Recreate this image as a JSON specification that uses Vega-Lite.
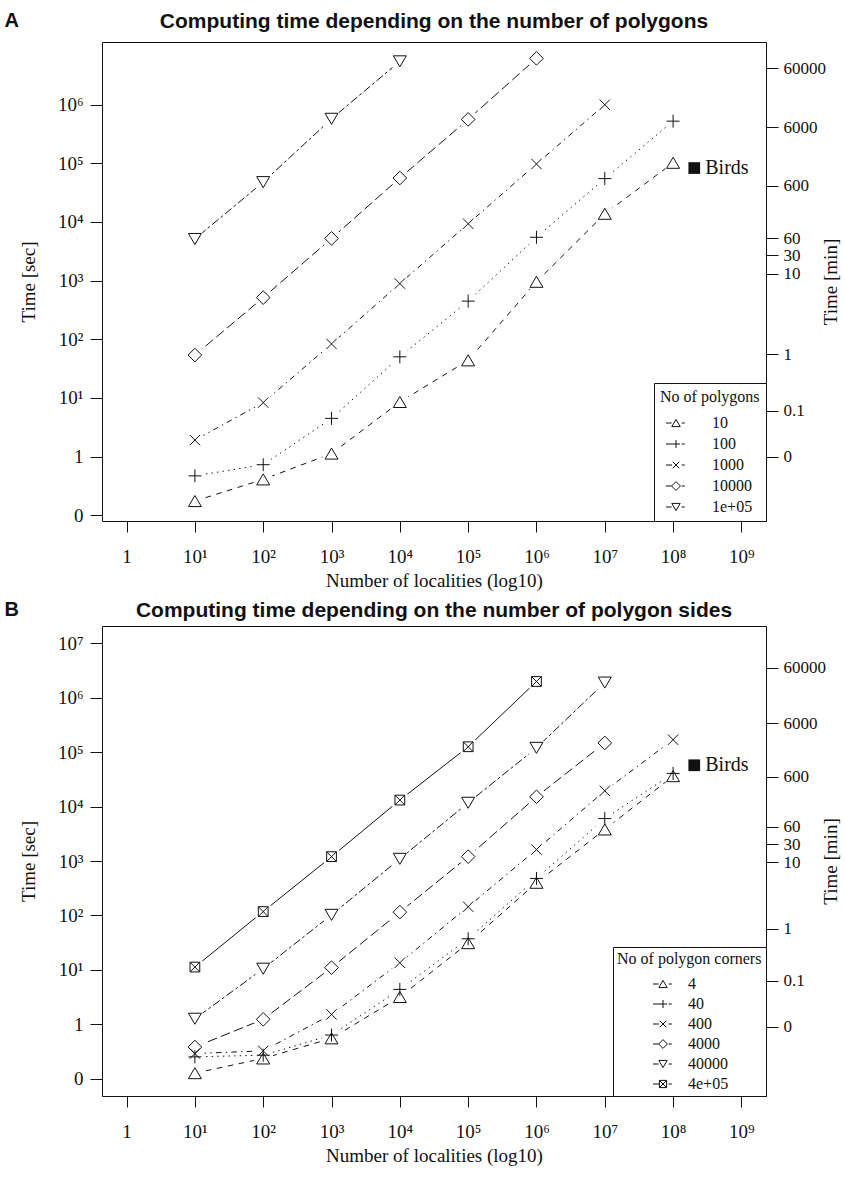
{
  "$schema": "https://vega.github.io/schema/vega-lite/v6.json",
  "background": "white",
  "padding": {"top": 10, "left": 4, "right": 0, "bottom": 0},
  "config": {
    "view": {"stroke": "#111", "strokeWidth": 1},
    "font": "Liberation Serif",
    "axis": {"domain": false, "grid": false, "tickColor": "#111", "tickSize": 11, "labelFont": "Liberation Serif", "labelFontSize": 19, "labelColor": "#111", "titleFont": "Liberation Serif", "titleFontSize": 19, "titleFontWeight": "normal", "titleColor": "#111", "labelFlush": false, "labelOverlap": false, "labelBound": false},
    "title": {"font": "Liberation Sans", "fontWeight": "bold", "fontSize": 21, "color": "#111"},
    "legend": {"titleFont": "Liberation Serif", "titleFontWeight": "normal", "titleFontSize": 16, "titleColor": "#111", "labelFont": "Liberation Serif", "labelFontSize": 16, "labelColor": "#111", "strokeColor": "#111", "fillColor": "white", "padding": 6, "cornerRadius": 0, "symbolSize": 64, "symbolStrokeWidth": 1, "symbolStrokeColor": "#111", "symbolOpacity": 1, "rowPadding": 5, "titlePadding": 10, "labelLimit": 300}
  },
  "datasets": {
    "panelA": [
      {"series": "10", "logN": 1, "logT": -0.76}, {"series": "10", "logN": 2, "logT": -0.39}, {"series": "10", "logN": 3, "logT": 0.05}, {"series": "10", "logN": 4, "logT": 0.93}, {"series": "10", "logN": 5, "logT": 1.64}, {"series": "10", "logN": 6, "logT": 2.98}, {"series": "10", "logN": 7, "logT": 4.14}, {"series": "10", "logN": 8, "logT": 5.01},
      {"series": "100", "logN": 1, "logT": -0.33}, {"series": "100", "logN": 2, "logT": -0.14}, {"series": "100", "logN": 3, "logT": 0.65}, {"series": "100", "logN": 4, "logT": 1.70}, {"series": "100", "logN": 5, "logT": 2.65}, {"series": "100", "logN": 6, "logT": 3.74}, {"series": "100", "logN": 7, "logT": 4.74}, {"series": "100", "logN": 8, "logT": 5.72},
      {"series": "1000", "logN": 1, "logT": 0.28}, {"series": "1000", "logN": 2, "logT": 0.92}, {"series": "1000", "logN": 3, "logT": 1.92}, {"series": "1000", "logN": 4, "logT": 2.95}, {"series": "1000", "logN": 5, "logT": 3.97}, {"series": "1000", "logN": 6, "logT": 4.99}, {"series": "1000", "logN": 7, "logT": 6.00},
      {"series": "10000", "logN": 1, "logT": 1.73}, {"series": "10000", "logN": 2, "logT": 2.71}, {"series": "10000", "logN": 3, "logT": 3.72}, {"series": "10000", "logN": 4, "logT": 4.75}, {"series": "10000", "logN": 5, "logT": 5.75}, {"series": "10000", "logN": 6, "logT": 6.79},
      {"series": "1e+05", "logN": 1, "logT": 3.71}, {"series": "1e+05", "logN": 2, "logT": 4.68}, {"series": "1e+05", "logN": 3, "logT": 5.76}, {"series": "1e+05", "logN": 4, "logT": 6.74}
    ],
    "panelB": [
      {"series": "4", "logN": 1, "logT": -0.90}, {"series": "4", "logN": 2, "logT": -0.63}, {"series": "4", "logN": 3, "logT": -0.26}, {"series": "4", "logN": 4, "logT": 0.50}, {"series": "4", "logN": 5, "logT": 1.49}, {"series": "4", "logN": 6, "logT": 2.60}, {"series": "4", "logN": 7, "logT": 3.58}, {"series": "4", "logN": 8, "logT": 4.56},
      {"series": "40", "logN": 1, "logT": -0.60}, {"series": "40", "logN": 2, "logT": -0.57}, {"series": "40", "logN": 3, "logT": -0.20}, {"series": "40", "logN": 4, "logT": 0.64}, {"series": "40", "logN": 5, "logT": 1.57}, {"series": "40", "logN": 6, "logT": 2.68}, {"series": "40", "logN": 7, "logT": 3.78}, {"series": "40", "logN": 8, "logT": 4.61},
      {"series": "400", "logN": 1, "logT": -0.54}, {"series": "400", "logN": 2, "logT": -0.49}, {"series": "400", "logN": 3, "logT": 0.18}, {"series": "400", "logN": 4, "logT": 1.13}, {"series": "400", "logN": 5, "logT": 2.16}, {"series": "400", "logN": 6, "logT": 3.21}, {"series": "400", "logN": 7, "logT": 4.29}, {"series": "400", "logN": 8, "logT": 5.23},
      {"series": "4000", "logN": 1, "logT": -0.42}, {"series": "4000", "logN": 2, "logT": 0.09}, {"series": "4000", "logN": 3, "logT": 1.04}, {"series": "4000", "logN": 4, "logT": 2.06}, {"series": "4000", "logN": 5, "logT": 3.08}, {"series": "4000", "logN": 6, "logT": 4.18}, {"series": "4000", "logN": 7, "logT": 5.17},
      {"series": "40000", "logN": 1, "logT": 0.10}, {"series": "40000", "logN": 2, "logT": 1.02}, {"series": "40000", "logN": 3, "logT": 2.01}, {"series": "40000", "logN": 4, "logT": 3.04}, {"series": "40000", "logN": 5, "logT": 4.07}, {"series": "40000", "logN": 6, "logT": 5.08}, {"series": "40000", "logN": 7, "logT": 6.28},
      {"series": "4e+05", "logN": 1, "logT": 1.05}, {"series": "4e+05", "logN": 2, "logT": 2.07}, {"series": "4e+05", "logN": 3, "logT": 3.08}, {"series": "4e+05", "logN": 4, "logT": 4.12}, {"series": "4e+05", "logN": 5, "logT": 5.10}, {"series": "4e+05", "logN": 6, "logT": 6.30}
    ],
    "birdsA": [{"logN": 8.31, "logT": 4.92, "label": "Birds"}],
    "birdsB": [{"logN": 8.31, "logT": 4.76, "label": "Birds"}]
  },
  "spacing": 8,
  "vconcat": [
    {
      "title": {"text": "A", "orient": "left", "anchor": "end", "angle": 0, "fontSize": 20, "offset": 0, "align": "left", "baseline": "top"},
      "vconcat": [
        {
          "width": 664,
          "height": 479,
          "title": {"text": "Computing time depending on the number of polygons", "anchor": "middle", "offset": 10},
          "data": {"name": "panelA"},
          "encoding": {
            "x": {"field": "logN", "type": "quantitative", "scale": {"domain": [-0.36, 9.36], "nice": false, "zero": false},
              "axis": {"values": [0, 1, 2, 3, 4, 5, 6, 7, 8, 9], "labelExpr": "datum.value == 0 ? '1' : '10' + ['','¹','²','³','⁴','⁵','⁶','⁷','⁸','⁹'][datum.value]", "title": "Number of localities (log10)", "labelPadding": 15, "titlePadding": 5}}
          },
          "layer": [
            {
              "mark": {"type": "line", "strokeWidth": 1, "color": "#111"},
              "encoding": {
                "y": {"field": "logT", "type": "quantitative", "scale": {"domain": [-1.1, 7.07], "nice": false, "zero": false},
                  "axis": {"orient": "left", "values": [-1, 0, 1, 2, 3, 4, 5, 6], "labelExpr": "datum.value == -1 ? '0' : datum.value == 0 ? '1' : '10' + ['','¹','²','³','⁴','⁵','⁶','⁷','⁸','⁹'][datum.value]", "title": "Time [sec]", "tickSize": 12, "labelPadding": 7, "titlePadding": 19}},
                "strokeDash": {"field": "series", "type": "nominal", "scale": {"domain": ["10", "100", "1000", "10000", "1e+05"], "range": [[5.6, 5.6], [1.4, 4.2], [1.4, 4.2, 5.6, 4.2], [9.8, 4.2], [2.8, 2.8, 8.4, 2.8]]}, "legend": null}
              }
            },
            {
              "mark": {"type": "point", "shape": "circle", "filled": true, "color": "white", "opacity": 1, "size": 380},
              "encoding": {"y": {"field": "logT", "type": "quantitative", "axis": null}}
            },
            {
              "mark": {"type": "point", "filled": false, "color": "#111", "opacity": 1, "strokeWidth": 1, "size": 169},
              "encoding": {
                "y": {"field": "logT", "type": "quantitative", "axis": null},
                "shape": {"field": "series", "type": "nominal", "scale": {"domain": ["10", "100", "1000", "10000", "1e+05"], "range": ["M0,-0.85L1,0.85L-1,0.85Z", "M-1,0L1,0M0,-1L0,1", "M-0.8,-0.8L0.8,0.8M-0.8,0.8L0.8,-0.8", "M0,-1.05L1.05,0L0,1.05L-1.05,0Z", "M0,0.85L1,-0.85L-1,-0.85Z"]}, "legend": null}
              }
            },
            {
              "mark": {"type": "point", "filled": false, "color": "#111", "opacity": 0, "strokeWidth": 1},
              "encoding": {
                "y": {"field": "logT", "type": "quantitative",
                  "axis": {"orient": "right", "values": [6.62, 5.62, 4.62, 3.72, 3.43, 3.12, 1.74, 0.78, 0], "labelExpr": "datum.value > 6 ? '60000' : datum.value > 5 ? '6000' : datum.value > 4 ? '600' : datum.value > 3.55 ? '60' : datum.value > 3.3 ? '30' : datum.value > 2.5 ? '10' : datum.value > 1 ? '1' : datum.value > 0.5 ? '0.1' : '0'", "title": "Time [min]", "tickSize": 12, "labelPadding": 5, "labelFontSize": 17, "titleAngle": 270, "titleBaseline": "top", "titlePadding": -4}},
                "shape": {"field": "series", "type": "nominal", "scale": {"domain": ["10", "100", "1000", "10000", "1e+05"], "range": ["M-2.5,0L-1.1,0M0,-0.9L1.05,0.9L-1.05,0.9ZM1.4,0L2.2,0", "M-2.5,0L1,0M0,-1L0,1M1.4,0L2.2,0", "M-2.5,0L-1,0M-0.8,-0.8L0.8,0.8M-0.8,0.8L0.8,-0.8M1.4,0L2.2,0", "M-2.5,0L-1.1,0M0,-1.1L1.1,0L0,1.1L-1.1,0ZM1.4,0L2.2,0", "M-2.5,0L-1.1,0M0,0.9L1.05,-0.9L-1.05,-0.9ZM1.4,0L2.2,0"]},
                  "legend": {"title": "No of polygons", "orient": "bottom-right", "offset": 0, "symbolOffset": 8, "labelOffset": 28}}
              }
            },
            {
              "data": {"name": "birdsA"},
              "mark": {"type": "point", "shape": "square", "filled": true, "color": "#111", "opacity": 1, "size": 137},
              "encoding": {"y": {"field": "logT", "type": "quantitative", "axis": null}}
            },
            {
              "data": {"name": "birdsA"},
              "mark": {"type": "text", "align": "left", "baseline": "middle", "dx": 11, "fontSize": 20, "font": "Liberation Serif", "color": "#111"},
              "encoding": {"y": {"field": "logT", "type": "quantitative", "axis": null}, "text": {"field": "label"}}
            }
          ],
          "resolve": {"scale": {"shape": "independent"}, "axis": {"y": "independent"}}
        }
      ]
    },
    {
      "title": {"text": "B", "orient": "left", "anchor": "end", "angle": 0, "fontSize": 20, "offset": 0, "align": "left", "baseline": "top"},
      "vconcat": [
        {
          "width": 664,
          "height": 470,
          "title": {"text": "Computing time depending on the number of polygon sides", "anchor": "middle", "offset": 5},
          "data": {"name": "panelB"},
          "encoding": {
            "x": {"field": "logN", "type": "quantitative", "scale": {"domain": [-0.36, 9.36], "nice": false, "zero": false},
              "axis": {"values": [0, 1, 2, 3, 4, 5, 6, 7, 8, 9], "labelExpr": "datum.value == 0 ? '1' : '10' + ['','¹','²','³','⁴','⁵','⁶','⁷','⁸','⁹'][datum.value]", "title": "Number of localities (log10)", "labelPadding": 15, "titlePadding": 5}}
          },
          "layer": [
            {
              "transform": [{"filter": "datum.series != '4e+05'"}],
              "mark": {"type": "line", "strokeWidth": 1, "color": "#111"},
              "encoding": {
                "y": {"field": "logT", "type": "quantitative", "scale": {"domain": [-1.32, 7.32], "nice": false, "zero": false},
                  "axis": {"orient": "left", "values": [-1, 0, 1, 2, 3, 4, 5, 6, 7], "labelExpr": "datum.value == -1 ? '0' : datum.value == 0 ? '1' : '10' + ['','¹','²','³','⁴','⁵','⁶','⁷','⁸','⁹'][datum.value]", "title": "Time [sec]", "tickSize": 12, "labelPadding": 7, "titlePadding": 19}},
                "strokeDash": {"field": "series", "type": "nominal", "scale": {"domain": ["4", "40", "400", "4000", "40000"], "range": [[5.6, 5.6], [1.4, 4.2], [1.4, 4.2, 5.6, 4.2], [9.8, 4.2], [2.8, 2.8, 8.4, 2.8]]}, "legend": null}
              }
            },
            {
              "transform": [{"filter": "datum.series == '4e+05'"}],
              "mark": {"type": "line", "strokeWidth": 1, "color": "#111"},
              "encoding": {
                "y": {"field": "logT", "type": "quantitative", "axis": null},
                "detail": {"field": "series", "type": "nominal"}
              }
            },
            {
              "mark": {"type": "point", "shape": "circle", "filled": true, "color": "white", "opacity": 1, "size": 380},
              "encoding": {"y": {"field": "logT", "type": "quantitative", "axis": null}}
            },
            {
              "mark": {"type": "point", "filled": false, "color": "#111", "opacity": 1, "strokeWidth": 1, "size": 169},
              "encoding": {
                "y": {"field": "logT", "type": "quantitative", "axis": null},
                "shape": {"field": "series", "type": "nominal", "scale": {"domain": ["4", "40", "400", "4000", "40000", "4e+05"], "range": ["M0,-0.85L1,0.85L-1,0.85Z", "M-1,0L1,0M0,-1L0,1", "M-0.8,-0.8L0.8,0.8M-0.8,0.8L0.8,-0.8", "M0,-1.05L1.05,0L0,1.05L-1.05,0Z", "M0,0.85L1,-0.85L-1,-0.85Z", "M-0.75,-0.75L0.75,-0.75L0.75,0.75L-0.75,0.75ZM-0.75,-0.75L0.75,0.75M-0.75,0.75L0.75,-0.75"]}, "legend": null}
              }
            },
            {
              "mark": {"type": "point", "filled": false, "color": "#111", "opacity": 0, "strokeWidth": 1},
              "encoding": {
                "y": {"field": "logT", "type": "quantitative",
                  "axis": {"orient": "right", "values": [6.55, 5.53, 4.55, 3.63, 3.31, 2.98, 1.75, 0.8, -0.05], "labelExpr": "datum.value > 6 ? '60000' : datum.value > 5 ? '6000' : datum.value > 4 ? '600' : datum.value > 3.45 ? '60' : datum.value > 3.2 ? '30' : datum.value > 2.5 ? '10' : datum.value > 1 ? '1' : datum.value > 0.5 ? '0.1' : '0'", "title": "Time [min]", "tickSize": 12, "labelPadding": 5, "labelFontSize": 17, "titleAngle": 270, "titleBaseline": "top", "titlePadding": -4}},
                "shape": {"field": "series", "type": "nominal", "scale": {"domain": ["4", "40", "400", "4000", "40000", "4e+05"], "range": ["M-2.5,0L-1.1,0M0,-0.9L1.05,0.9L-1.05,0.9ZM1.4,0L2.2,0", "M-2.5,0L1,0M0,-1L0,1M1.4,0L2.2,0", "M-2.5,0L-1,0M-0.8,-0.8L0.8,0.8M-0.8,0.8L0.8,-0.8M1.4,0L2.2,0", "M-2.5,0L-1.1,0M0,-1.1L1.1,0L0,1.1L-1.1,0ZM1.4,0L2.2,0", "M-2.5,0L-1.1,0M0,0.9L1.05,-0.9L-1.05,-0.9ZM1.4,0L2.2,0", "M-2.5,0L-0.9,0M-0.9,-0.9L0.9,-0.9L0.9,0.9L-0.9,0.9ZM-0.9,-0.9L0.9,0.9M-0.9,0.9L0.9,-0.9M1.4,0L2.2,0"]},
                  "legend": {"title": "No of polygon corners", "orient": "bottom-right", "offset": 0, "symbolOffset": 38, "labelOffset": 17, "padding": 4, "rowPadding": 4, "titlePadding": 9}}
              }
            },
            {
              "data": {"name": "birdsB"},
              "mark": {"type": "point", "shape": "square", "filled": true, "color": "#111", "opacity": 1, "size": 137},
              "encoding": {"y": {"field": "logT", "type": "quantitative", "axis": null}}
            },
            {
              "data": {"name": "birdsB"},
              "mark": {"type": "text", "align": "left", "baseline": "middle", "dx": 11, "fontSize": 20, "font": "Liberation Serif", "color": "#111"},
              "encoding": {"y": {"field": "logT", "type": "quantitative", "axis": null}, "text": {"field": "label"}}
            }
          ],
          "resolve": {"scale": {"shape": "independent"}, "axis": {"y": "independent"}}
        }
      ]
    }
  ]
}
